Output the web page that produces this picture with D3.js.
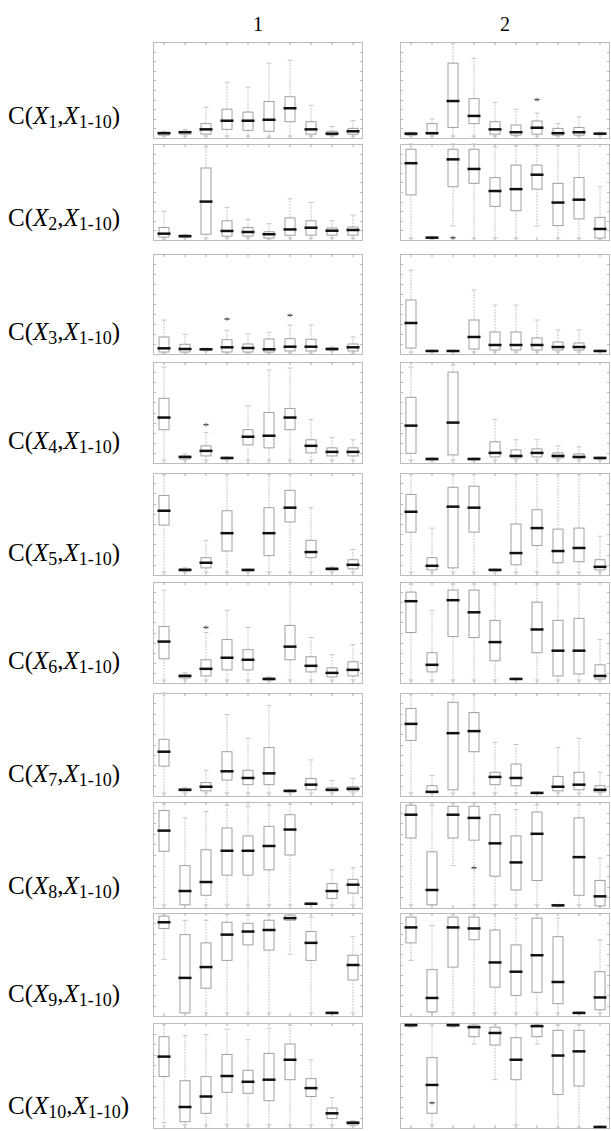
<!DOCTYPE html>
<html>
<head>
<meta charset="utf-8">
<script src="https://cdn.jsdelivr.net/npm/d3@7"></script>
<style>
  body { margin: 0; background: #fff; }
  svg { display: block; }
</style>
</head>
<body>
<div class="chart"></div>
<script>
// Box stats per panel: [lower whisker, q1, median, q3, upper whisker], in % of panel height
var columns = ['1', '2'];
var rowVars = [1, 2, 3, 4, 5, 6, 7, 8, 9, 10];
var boxVars = ['X1', 'X2', 'X3', 'X4', 'X5', 'X6', 'X7', 'X8', 'X9', 'X10'];

var col1 = [];
col1[0] = [[2,3,5,6,7],[2,4,6,7,9],[2,4,9,15,32],[2,9,18,30,58],[2,8,18,27,53],[1,7,19,38,78],[2,17,31,43,81],[2,4,9,17,34],[2,3,4.5,7,12],[2,4,7,10,18]];
col1[1] = [[1,3,6.6,13,30],[2,3,4,5,5.5],[2,6,40,75,97],[2,4,9.4,20,34],[2,4,8.3,13,21.5],[1,2,6,8.6,17],[2,5,11,23,43],[2,5,12.8,20,39],[2,5,9.7,12.5,20],[2,5,10.4,13.5,26]];
col1[2] = [[1,2,5.7,17,34],[1,2,5,9.7,19.7],[3,4,4.7,5.3,6],[1,2,6.7,14.3,23.7],[1,2,6,10,20],[1,2,4.7,15,21.7],[1,3,7.3,15.3,29],[1,3,7.3,14.7,29],[3,4,5,6,7],[1,3,6.7,10,17]];
col1[3] = [[3,33,45,64,95],[3,4,6,7,9],[3,7,12,17,30],[3,4,5,5.5,6],[3,18,26,33,57],[3,15,27,50,92],[3,33,45,54,94],[3,10,17,23,43],[3,7,11,15,25],[3,7,11,15,23]];
col1[4] = [[3,49,63,78,99],[3,4,5,6,7],[3,7,12,17,34],[3,23.5,41,63,99],[3,4,5,5.5,6],[3,19,41,66,99],[3,52,66,83,99],[3,17,22.5,34,66],[3,5,6,7,8],[3,6,10,15,25]];
col1[5] = [[3,24,41,56,92],[3,5,7,8,10],[3,7,14,23,50],[3,13,25,43,72],[3,13,23,33,55],[2,3,4,5,6],[3,23,36,57,100],[3,11,17,26,45],[3,6,10,15,28],[3,7,13,21,38]];
col1[6] = [[3,29,43,55,100],[3,5,6,7,8],[3,5,9,13,25],[3,15.5,24,43,79],[3,11,17.5,25,56],[3,11,22,47,88],[3,4,5,5.5,6],[3,6,11,17,35],[3,5,6,8,15],[3,5,7,9,17]];
col1[7] = [[3,53.5,73,92,98],[3,3,16,40,85],[3,12,24.5,55,91],[3,31,54,75.5,97],[3,31,54,68,96],[3,36,58.5,77,97],[3,50,74,88,98],[3,3.5,4,4.5,5],[3,9,16,23,36],[3,14,22,27,38]];
col1[8] = [[55,85,91,97,99],[3,3,37,79,93],[3,27,47.5,71,93],[3,54,79,91,99],[3,69,82,90,98],[3,64,83.5,93,98],[60,93,95,98,99],[3,54,71,82,96],[2,2.5,3,3.5,4],[3,35,49.5,59,77]];
col1[9] = [[5,49,68,87,99],[3,6,20,45,88],[3,14,30,49,89],[3,34,49.5,70,94],[3,33,44,55,84],[3,26,46,71,95],[3,46,65,80,98],[3,30,38,47,65],[3,9,14,19,29],[2,3,5,6,7]];

var col2 = [];
col2[0] = [[2,3,4.5,5.5,6],[2,4,5,15,20],[2,11,38.5,78,99],[2,15,23,41,83],[2,4,9,17,37],[2,3,6,13.5,30],[2,4,10.7,17.7,26],[2,3,5,10,15],[2,3,6,11,22],[3,4,4.5,5,6]];
col2[1] = [[2,47,80,94.5,100],[1,2,2.4,3,3.5],[14.6,55.5,84,94.5,100],[2,59,74,94.5,100],[2,35,51,65,97],[2,30.5,53,78,98],[14.6,53,68,78,98],[2,15,39,59,98],[2,22,42,65,98],[1,2,11.5,23.6,55.5]];
col2[2] = [[2,6,31,54,84],[2,2.5,3,3.5,4],[2,2.5,3,3.5,4],[2,5,17,34,64],[2,4,9,22,49],[2,4,9,22,49],[2,4,9,16,34],[2,4,7,12,24],[2,4,7,11,24],[2,2.5,3,3.5,4]];
col2[3] = [[3,9.6,37,65,95],[2,3,4,4.5,5],[3,8,40,90,97],[2,3,4,4.5,5],[3,6,10,21,43],[3,5,7,13,23],[3,6,10,14,23],[3,5,7,10,17],[3,5,6,9,16],[3,4,5,5.5,6]];
col2[4] = [[3,42,62,79,99],[3,5,9,17,46],[3,7,67,86,99],[3,42,66,87,99],[3,4,5,5.5,6],[3,10,21.5,50,99],[3,29,46,64,99],[3,12,23.5,45,99],[3,13,26.5,46,99],[3,5,8,15,38]];
col2[5] = [[3,50,81,90,98],[3,11,18,30,72],[3,46,82,92,98],[3,45,70,92,98],[3,22,40.5,62,98],[3,3.5,4,4.5,5],[3,30,53,80,98],[3,7,32,62,98],[3,9,32,64,98],[3,4,7,18,43]];
col2[6] = [[3,54,70,85,99],[3,4,4,10,20],[3,6,61,91,99],[3,43,63,81,99],[3,11,18.5,23,52],[3,10,17.5,31,50],[2,2.5,3,3.5,4],[3,5,9,19,47],[3,6,11,23,56],[3,4,6,10,23]];
col2[7] = [[3,66,88,97,99],[3,3,17,53,97],[40,66,88,96,99],[3,64,85,96,99],[3,30,61,88,99],[3,17,43,68,93],[3,26,70,90.5,97],[2,2,2.5,3,3.5],[3,12,48,85,97],[1,2,11,26,47]];
col2[8] = [[54,71,86,96,99],[3,4,17.5,45,88],[3,47.5,86,96,99],[3,74,85,96,99],[3,28,52,83.5,99],[3,20,43,69,95],[3,23,59,95,99],[3,12,33,77,95],[2,2.5,3,3.5,4],[3,6,18,43,74]];
col2[9] = [[96,97,98,99,99.5],[3,14,41,67,98],[96,97,98,99,99.5],[80,87,96,98,99],[46,79,90.5,96,99],[3,46,65,86,99],[80,87,97,98,99],[0,32,69,93,98],[0,40,73,93,98],[0,0.5,1,1.5,2]];

// outliers: [column, row, box, value]
var outliers = [
    [0, 3, 2, 38], [0, 5, 2, 55], [0, 2, 3, 35], [0, 2, 6, 38.7],
    [1, 0, 6, 40], [1, 1, 2, 2.4], [1, 7, 3, 38], [1, 9, 1, 24]
];

var W = 611, H = 1131;
var colLeft = [153, 400];
var colWidth = 210;
var rowTop = [42, 144, 254, 362, 473, 582, 693, 802, 913, 1023];
var rowBottom = [138, 240, 354, 463, 575, 683, 796, 908, 1016, 1128];
var fontFamily = '"Liberation Serif", "Times New Roman", serif';

var svg = d3.select('.chart')
    .append('svg')
        .attr('width', W)
        .attr('height', H);

var x = d3.scaleBand()
    .domain(boxVars)
    .range([0, colWidth])
    .padding(0);
var boxW = 10;
var medW = 13;
var whiskerColor = '#c6c6c6';

// column headers
svg.selectAll('text.head')
    .data(columns)
    .enter()
    .append('text')
    .attr('class', 'head')
    .attr('x', function (d, i) { return colLeft[i] + colWidth / 2; })
    .attr('y', 31)
    .attr('text-anchor', 'middle')
    .attr('font-family', fontFamily)
    .attr('font-size', 20)
    .text(function (d) { return d; });

// row labels C(Xi,X1-10)
rowVars.forEach(function (r, ri) {
    var t = svg.append('text')
        .attr('x', 8)
        .attr('y', rowBottom[ri] - 14)
        .attr('font-family', fontFamily)
        .attr('font-size', 25);
    t.append('tspan').text('C(');
    t.append('tspan').attr('font-style', 'italic').text('X');
    t.append('tspan').attr('font-size', 18).attr('dy', 4).text(r);
    t.append('tspan').attr('dy', -4).text(',');
    t.append('tspan').attr('font-style', 'italic').text('X');
    t.append('tspan').attr('font-size', 18).attr('dy', 4).text('1-10');
    t.append('tspan').attr('dy', -4).text(')');
});

function drawPanel(data, ci, ri) {
    var y = d3.scaleLinear()
        .domain([0, 100])
        .range([rowBottom[ri], rowTop[ri]]);
    var g = svg.append('g')
        .attr('transform', 'translate(' + colLeft[ci] + ',0)');

    // frame
    g.append('rect')
        .attr('x', 0.5)
        .attr('y', rowTop[ri] + 0.5)
        .attr('width', colWidth - 1)
        .attr('height', rowBottom[ri] - rowTop[ri])
        .attr('fill', 'none')
        .attr('stroke', '#bdbdbd');

    // ticks on top / bottom
    var cx = function (d, i) { return x(boxVars[i]) + x.bandwidth() / 2 + 0.5; };
    [rowTop[ri], rowBottom[ri]].forEach(function (yy, k) {
        g.selectAll(null)
            .data(boxVars)
            .enter()
            .append('line')
            .attr('x1', cx).attr('x2', cx)
            .attr('y1', yy).attr('y2', k === 0 ? yy + 3 : yy - 3)
            .attr('stroke', '#aaa');
    });
    // ticks on left / right
    var yt = d3.range(10, 100, 10);
    [0, colWidth].forEach(function (xx, k) {
        g.selectAll(null)
            .data(yt)
            .enter()
            .append('line')
            .attr('x1', xx).attr('x2', k === 0 ? xx + 3 : xx - 3)
            .attr('y1', function (d) { return Math.round(y(d)) + 0.5; })
            .attr('y2', function (d) { return Math.round(y(d)) + 0.5; })
            .attr('stroke', '#bbb');
    });

    var b = g.selectAll('g.box')
        .data(data)
        .enter()
        .append('g')
        .attr('transform', function (d, i) {
            return 'translate(' + (x(boxVars[i]) + x.bandwidth() / 2) + ',0)';
        });

    // whiskers
    b.append('line')
        .attr('x1', 0.5).attr('x2', 0.5)
        .attr('y1', function (d) { return y(d[3]); })
        .attr('y2', function (d) { return y(d[4]); })
        .attr('stroke', whiskerColor)
        .attr('stroke-dasharray', '2,1');
    b.append('line')
        .attr('x1', 0.5).attr('x2', 0.5)
        .attr('y1', function (d) { return y(d[1]); })
        .attr('y2', function (d) { return y(d[0]); })
        .attr('stroke', whiskerColor)
        .attr('stroke-dasharray', '2,1');
    // caps
    [0, 4].forEach(function (k) {
        b.append('line')
            .attr('x1', -2).attr('x2', 3)
            .attr('y1', function (d) { return y(d[k]); })
            .attr('y2', function (d) { return y(d[k]); })
            .attr('stroke', whiskerColor);
    });
    // box
    b.append('rect')
        .attr('x', -boxW / 2 + 0.5)
        .attr('y', function (d) { return y(d[3]); })
        .attr('width', boxW)
        .attr('height', function (d) { return Math.max(0, y(d[1]) - y(d[3])); })
        .attr('fill', '#fff')
        .attr('stroke', '#a0a0a0');
    // median
    b.append('line')
        .attr('x1', -medW / 2 + 0.5).attr('x2', medW / 2 + 0.5)
        .attr('y1', function (d) { return y(d[2]); })
        .attr('y2', function (d) { return y(d[2]); })
        .attr('stroke', '#111')
        .attr('stroke-width', 2.5);

    // outliers
    var pts = outliers.filter(function (o) { return o[0] === ci && o[1] === ri; });
    var p = g.selectAll('g.out')
        .data(pts)
        .enter()
        .append('g')
        .attr('transform', function (o) {
            return 'translate(' + (x(boxVars[o[2]]) + x.bandwidth() / 2 + 0.5) + ',' + y(o[3]) + ')';
        });
    p.append('line').attr('x1', -2.5).attr('x2', 2.5).attr('y1', 0).attr('y2', 0)
        .attr('stroke', '#444').attr('stroke-width', 1.5);
    p.append('line').attr('x1', 0).attr('x2', 0).attr('y1', -2).attr('y2', 2)
        .attr('stroke', '#888');
}

[col1, col2].forEach(function (col, ci) {
    col.forEach(function (panel, ri) { drawPanel(panel, ci, ri); });
});
</script>
</body>
</html>
